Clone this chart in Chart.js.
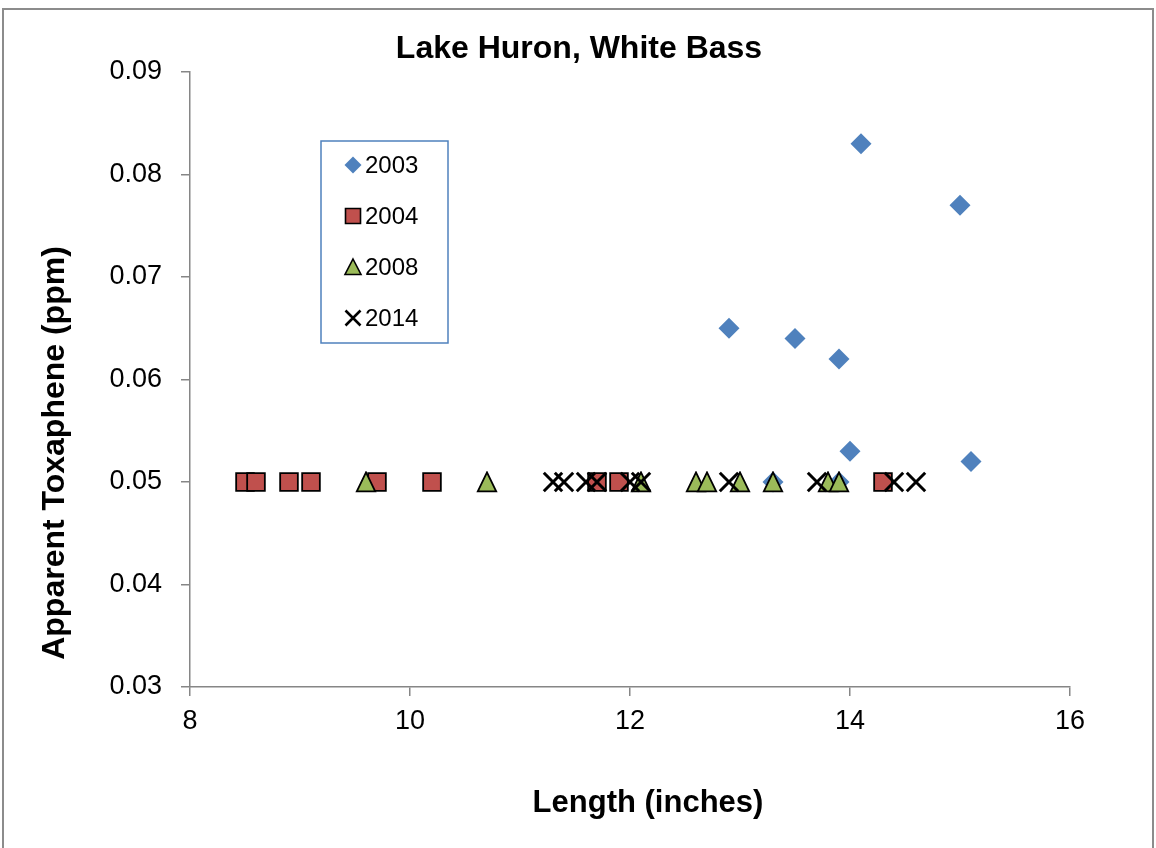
<!DOCTYPE html>
<html>
<head>
<meta charset="utf-8">
<script src="https://cdn.jsdelivr.net/npm/chart.js@4.4.1/dist/chart.umd.min.js"></script>
<style>
  html, body { margin: 0; padding: 0; background: #fff; }
  #wrap { position: relative; width: 1156px; height: 848px; overflow: hidden; }
  #cornice { position: absolute; left: 2px; top: 8px; width: 1148px; height: 900px; border: 2px solid #8c8c8c; pointer-events: none; }
</style>
</head>
<body>
<div id="wrap">
  <canvas id="grafico" width="1156" height="848"></canvas>
  <div id="cornice"></div>
</div>
<script>
// DATI
const lunghezza2003 = [12.9, 13.3, 13.5, 13.9, 13.9, 14.0, 14.1, 15.0, 15.1];
const toxafene2003  = [0.065, 0.05, 0.064, 0.062, 0.05, 0.053, 0.083, 0.077, 0.052];

const lunghezza2004 = [8.5, 8.6, 8.9, 9.1, 9.7, 10.2, 11.7, 11.9, 14.3];
const toxafene2004  = [0.05, 0.05, 0.05, 0.05, 0.05, 0.05, 0.05, 0.05, 0.05];

const lunghezza2008 = [9.6, 10.7, 12.1, 12.6, 12.7, 13.0, 13.3, 13.8, 13.9];
const toxafene2008  = [0.05, 0.05, 0.05, 0.05, 0.05, 0.05, 0.05, 0.05, 0.05];

const lunghezza2014 = [11.3, 11.4, 11.6, 11.7, 12.0, 12.1, 12.9, 13.7, 14.4, 14.6];
const toxafene2014  = [0.05, 0.05, 0.05, 0.05, 0.05, 0.05, 0.05, 0.05, 0.05, 0.05];

const anni = ["2003", "2004", "2008", "2014"];
const tickX = [8, 10, 12, 14, 16];
const tickY = [0.03, 0.04, 0.05, 0.06, 0.07, 0.08, 0.09];

const titolo = 'Lake Huron, White Bass';
const titoloX = 'Length (inches)';
const titoloY = 'Apparent Toxaphene (ppm)';

const FONT = "'Liberation Sans', Arial, sans-serif";
const GRIGIO = '#868686';

// COSTRUISCE I PUNTI {x, y}
function punti(xs, ys) {
  return xs.map((x, i) => ({ x: x, y: ys[i] }));
}

// TRIANGOLO CENTRATO (come in Excel, non sul baricentro)
function creaTriangolo() {
  const c = document.createElement('canvas');
  c.width = 22; c.height = 22;
  const g = c.getContext('2d');
  g.beginPath();
  g.moveTo(11, 1.4); g.lineTo(20.2, 20.4); g.lineTo(1.8, 20.4); g.closePath();
  g.fillStyle = '#9BBB59'; g.fill();
  g.lineWidth = 1.8; g.strokeStyle = '#000'; g.lineJoin = 'miter'; g.stroke();
  return c;
}

// TITOLI DISEGNATI NELLA POSIZIONE DEL RIFERIMENTO
const titoli = {
  id: 'titoli',
  afterDraw(chart) {
    const ctx = chart.ctx;
    ctx.save();
    ctx.fillStyle = '#000';
    ctx.textAlign = 'center';
    ctx.textBaseline = 'alphabetic';
    ctx.font = 'bold 32px ' + FONT;
    ctx.fillText(titolo, 579, 58);
    ctx.font = 'bold 31px ' + FONT;
    ctx.fillText(titoloX, 648, 812);
    ctx.font = 'bold 32px ' + FONT;
    ctx.translate(64, 453);
    ctx.rotate(-Math.PI / 2);
    ctx.fillText(titoloY, 0, 0);
    ctx.restore();
  }
};

// LEGENDA DENTRO IL GRAFICO (riquadro blu)
const legendaInterna = {
  id: 'legendaInterna',
  afterDraw(chart) {
    const ctx = chart.ctx;
    ctx.save();
    ctx.fillStyle = '#fff';
    ctx.fillRect(321, 141, 127, 202);
    ctx.strokeStyle = '#4F81BD';
    ctx.lineWidth = 1.5;
    ctx.strokeRect(321, 141, 127, 202);

    const ys = [165, 216, 267, 318];
    const mx = 353;
    chart.data.datasets.forEach((ds, i) => {
      const y = ys[i];
      ctx.beginPath();
      if (i === 0) {
        ctx.moveTo(mx, y - 8.5); ctx.lineTo(mx + 8.5, y); ctx.lineTo(mx, y + 8.5); ctx.lineTo(mx - 8.5, y); ctx.closePath();
        ctx.fillStyle = ds.backgroundColor; ctx.fill();
      } else if (i === 1) {
        ctx.rect(mx - 7.5, y - 7.5, 15, 15);
        ctx.fillStyle = ds.backgroundColor; ctx.fill();
        ctx.strokeStyle = '#000'; ctx.lineWidth = 1.6; ctx.stroke();
      } else if (i === 2) {
        ctx.moveTo(mx, y - 8); ctx.lineTo(mx + 8, y + 7.5); ctx.lineTo(mx - 8, y + 7.5); ctx.closePath();
        ctx.fillStyle = ds.backgroundColor; ctx.fill();
        ctx.strokeStyle = '#000'; ctx.lineWidth = 1.6; ctx.stroke();
      } else {
        ctx.moveTo(mx - 7.5, y - 7.5); ctx.lineTo(mx + 7.5, y + 7.5);
        ctx.moveTo(mx + 7.5, y - 7.5); ctx.lineTo(mx - 7.5, y + 7.5);
        ctx.strokeStyle = '#000'; ctx.lineWidth = 2.6; ctx.stroke();
      }
      ctx.fillStyle = '#000';
      ctx.font = '24px ' + FONT;
      ctx.textAlign = 'left';
      ctx.textBaseline = 'middle';
      ctx.fillText(ds.label, 365, y + 1);
    });
    ctx.restore();
  }
};

const ctx = document.getElementById('grafico').getContext('2d');
const chart = new Chart(ctx, {
  type: 'scatter',
  data: {
    datasets: [
      {
        label: anni[0],
        data: punti(lunghezza2003, toxafene2003),
        pointStyle: 'rectRot',
        radius: 10.5,
        backgroundColor: '#4F81BD',
        borderColor: '#4F81BD',
        borderWidth: 0,
        order: 3
      },
      {
        label: anni[1],
        data: punti(lunghezza2004, toxafene2004),
        pointStyle: 'rect',
        radius: 12.5,
        backgroundColor: '#C0504D',
        borderColor: '#000',
        borderWidth: 1.8,
        order: 2
      },
      {
        label: anni[2],
        data: punti(lunghezza2008, toxafene2008),
        pointStyle: creaTriangolo(),
        radius: 11,
        backgroundColor: '#9BBB59',
        borderColor: '#000',
        borderWidth: 1.8,
        order: 1
      },
      {
        label: anni[3],
        data: punti(lunghezza2014, toxafene2014),
        pointStyle: 'crossRot',
        radius: 13,
        backgroundColor: '#000',
        borderColor: '#000',
        borderWidth: 3,
        order: 0
      }
    ]
  },
  options: {
    responsive: false,
    animation: false,
    layout: { padding: { left: 0, right: 86, top: 72, bottom: 0 } },
    plugins: {
      legend: { display: false },
      tooltip: { enabled: false },
      title: { display: false }
    },
    scales: {
      x: {
        type: 'linear',
        min: tickX[0],
        max: tickX[tickX.length - 1],
        afterBuildTicks: (s) => { s.ticks = tickX.map(v => ({ value: v })); },
        afterFit: (s) => { s.height = 161; },
        ticks: {
          color: '#000',
          padding: 9,
          font: { family: FONT, size: 27 },
          callback: (v) => String(v)
        },
        grid: { drawOnChartArea: false, drawTicks: true, tickLength: 9, color: GRIGIO, lineWidth: 1.5 },
        border: { display: true, color: GRIGIO, width: 1.5 },
        title: { display: false }
      },
      y: {
        type: 'linear',
        min: tickY[0],
        max: tickY[tickY.length - 1],
        afterBuildTicks: (s) => { s.ticks = tickY.map(v => ({ value: v })); },
        afterFit: (s) => { s.width = 190; },
        ticks: {
          color: '#000',
          padding: 19,
          font: { family: FONT, size: 27 },
          callback: (v) => v.toFixed(2)
        },
        grid: { drawOnChartArea: false, drawTicks: true, tickLength: 9, color: GRIGIO, lineWidth: 1.5 },
        border: { display: true, color: GRIGIO, width: 1.5 },
        title: { display: false }
      }
    }
  },
  plugins: [titoli, legendaInterna]
});
</script>
</body>
</html>
